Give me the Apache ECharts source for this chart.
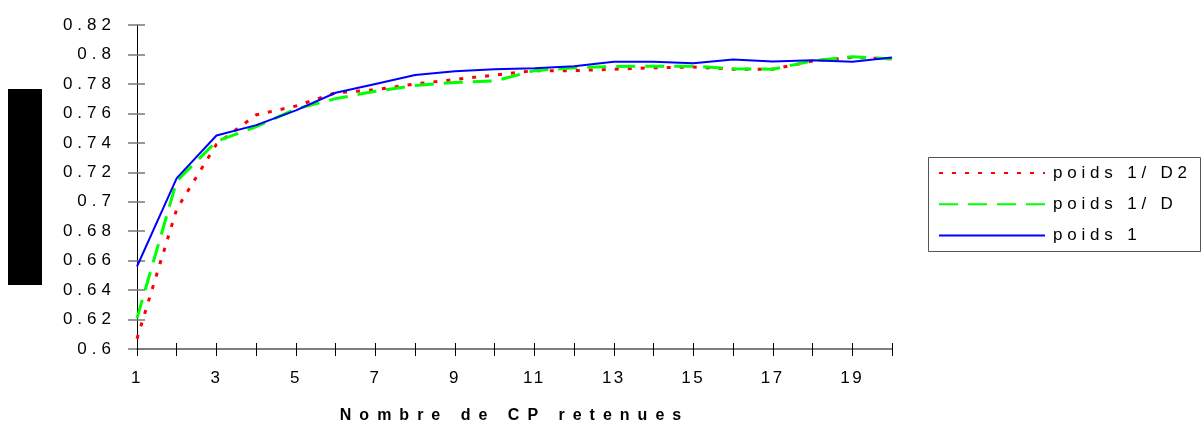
<!DOCTYPE html>
<html>
<head>
<meta charset="utf-8">
<script src="https://cdn.jsdelivr.net/npm/echarts@6/dist/echarts.min.js"></script>
<style>
html,body{margin:0;padding:0;background:#fff;}
#chart{width:1203px;height:427px;}
</style>
</head>
<body>
<div id="chart"></div>
<script>
var categories = ['1','2','3','4','5','6','7','8','9','10','11','12','13','14','15','16','17','18','19','20'];
var poidsD2 = [0.607,0.695,0.739,0.759,0.765,0.774,0.776,0.780,0.783,0.786,0.789,0.789,0.790,0.791,0.7915,0.790,0.790,0.7955,0.798,0.797];
var poidsD  = [0.621,0.714,0.741,0.751,0.763,0.770,0.775,0.779,0.781,0.782,0.789,0.791,0.7918,0.792,0.792,0.7903,0.790,0.7956,0.7985,0.797];
var poids1  = [0.656,0.716,0.745,0.752,0.762,0.774,0.780,0.786,0.7886,0.790,0.7906,0.792,0.795,0.795,0.794,0.7965,0.7953,0.796,0.795,0.798];
var seriesNames = ['poids 1/ D2','poids 1/ D','poids 1'];
var xTitle = 'Nombre de CP retenues';

// widened character spacing, as in the reference rendering
(function(){
  var P = CanvasRenderingContext2D.prototype;
  function ls(ctx){
    var f = ctx.font || '';
    var s = '0px';
    if (/bold|700/.test(f)) s = '8px';
    else if (f.indexOf('Helvetica') >= 0) s = '4.8px';
    else if (f.indexOf('Arial') >= 0) s = '2.5px';
    else if (f.indexOf('Liberation') >= 0) s = '5px';
    try { ctx.letterSpacing = s; } catch(e) {}
  }
  ['fillText','strokeText','measureText'].forEach(function(k){
    var o = P[k];
    P[k] = function(){ ls(this); return o.apply(this, arguments); };
  });
})();

var fY = 'Liberation Sans, sans-serif';
var fX = 'Arial, Liberation Sans, sans-serif';
var fL = 'Helvetica, Liberation Sans, sans-serif';

var chart = echarts.init(document.getElementById('chart'), null, {renderer:'canvas'});
chart.setOption({
  backgroundColor:'#ffffff',
  animation:false,
  grid:{left:137, right:311, top:25, bottom:78, containLabel:false, outerBoundsMode:'none'},
  legend:{
    orient:'vertical', left:938, top:162,
    data:seriesNames,
    itemWidth:106, itemHeight:4, itemGap:9.5,
    padding:0,
    itemStyle:{opacity:0},
    textStyle:{fontFamily:fL, fontSize:17, color:'#000', padding:[0,0,0,3]}
  },
  xAxis:[{
    type:'category', data:categories, boundaryGap:false,
    name:xTitle, nameLocation:'middle', nameGap:55,
    nameTextStyle:{fontFamily:fY, fontSize:16, fontWeight:'bold', color:'#000'},
    axisLine:{lineStyle:{color:'#555', width:1.5}},
    axisTick:{interval:0, length:7, lineStyle:{color:'#000'}},
    axisLabel:{interval:1, fontFamily:fX, fontSize:17, color:'#000', margin:20},
    splitLine:{show:false}
  },{
    type:'category', data:categories, boundaryGap:false, position:'bottom',
    axisLine:{show:false},
    axisTick:{interval:0, inside:true, length:6, lineStyle:{color:'#000'}},
    axisLabel:{show:false},
    splitLine:{show:false}
  }],
  yAxis:[{
    type:'value', min:0.6, max:0.82, interval:0.02,
    axisLine:{show:true, lineStyle:{color:'#000', width:1}},
    axisTick:{show:true, length:9, lineStyle:{color:'#777', width:1.5}},
    axisLabel:{fontFamily:fY, fontSize:17, color:'#000', margin:21},
    splitLine:{show:false}
  },{
    type:'value', min:0.6, max:0.82, interval:0.02, position:'left',
    axisLine:{show:false},
    axisTick:{show:true, inside:true, length:8, lineStyle:{color:'#777', width:1.5}},
    axisLabel:{show:false},
    splitLine:{show:false}
  }],
  graphic:[
    {type:'rect', shape:{x:8, y:89, width:34, height:196}, style:{fill:'#000'}},
    {type:'rect', shape:{x:928.5, y:157.5, width:272, height:94}, style:{fill:'none', stroke:'#555', lineWidth:1}, z:-1}
  ],
  series:[
    {name:seriesNames[0], type:'line', data:poidsD2, symbol:'none', z:3,
     lineStyle:{color:'#ff0000', width:3, type:[4,9]}, itemStyle:{color:'#ff0000'}},
    {name:seriesNames[1], type:'line', data:poidsD, symbol:'none', z:4,
     lineStyle:{color:'#00ff00', width:3, type:[19,10]}, itemStyle:{color:'#00ff00'}},
    {name:seriesNames[2], type:'line', data:poids1, symbol:'none', z:5,
     lineStyle:{color:'#0000ff', width:2}, itemStyle:{color:'#0000ff'}}
  ]
});
</script>
</body>
</html>
